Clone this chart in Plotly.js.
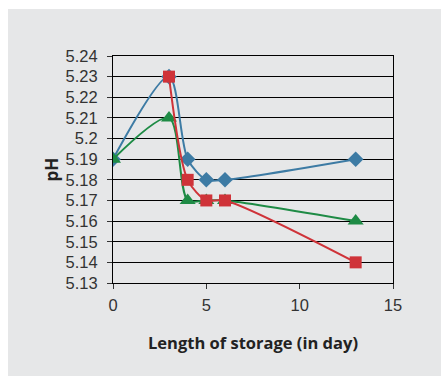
<!DOCTYPE html>
<html><head><meta charset="utf-8">
<script src="https://cdn.plot.ly/plotly-3.0.1.min.js"></script>
<style>
html,body{margin:0;padding:0;background:#fff;width:441px;height:376px;overflow:hidden;}
#chart{position:absolute;left:8px;top:9px;width:433px;height:367px;}
</style></head>
<body><div id="chart"></div>
<script>
const blueDays = [0, 3, 4, 5, 6, 13];
const blueVals = [5.19, 5.23, 5.19, 5.18, 5.18, 5.19];
const redDays = [3, 4, 5, 6, 13];
const redVals = [5.23, 5.18, 5.17, 5.17, 5.14];
const greenDays = [0, 3, 4, 5, 6, 13];
const greenVals = [5.19, 5.21, 5.17, 5.17, 5.17, 5.16];
const xTicks = [0, 5, 10, 15];
const yTicks = [5.13, 5.14, 5.15, 5.16, 5.17, 5.18, 5.19, 5.2, 5.21, 5.22, 5.23, 5.24];
const yTickText = ['5.13','5.14','5.15','5.16','5.17','5.18','5.19','5.2','5.21','5.22','5.23','5.24'];
const yTitle = 'pH';

const traces = [
  {x: blueDays, y: blueVals, mode: 'lines+markers', line: {color: '#3d7ba4', width: 2, shape: 'spline', smoothing: 0.8},
   marker: {symbol: 'diamond', size: 12, color: '#3d7ba4'}},
  {x: greenDays, y: greenVals, mode: 'lines+markers', line: {color: '#1e8b45', width: 2, shape: 'spline', smoothing: 0.8},
   marker: {symbol: 'triangle-up', size: 14, color: '#1e8b45'}},
  {x: redDays, y: redVals, mode: 'lines+markers', line: {color: '#cf3339', width: 2, shape: 'spline', smoothing: 0.8},
   marker: {symbol: 'square', size: 12, color: '#cf3339'}}
];

const layout = {
  width: 433, height: 367,
  margin: {l: 105, r: 48, t: 47, b: 93},
  paper_bgcolor: '#e6e7e8', plot_bgcolor: '#e6e7e8',
  showlegend: false,
  font: {family: 'Liberation Sans, Arial, sans-serif', color: '#333', size: 16},
  xaxis: {range: [0, 15], tickvals: xTicks, ticktext: xTicks.map(String),
    showgrid: false, zeroline: false, showline: true, linecolor: '#000', linewidth: 1, mirror: true,
    ticks: 'outside', ticklen: 5, tickcolor: '#333', tickfont: {size: 16.5, color: '#333'}, ticklabelstandoff: 2,
    title: {text: 'Length of storage (in day)', font: {size: 16.5, color: '#222', family: 'Open Sans, sans-serif', weight: 'bold'}, standoff: 24}},
  yaxis: {range: [5.13, 5.24], tickvals: yTicks, ticktext: yTickText,
    showgrid: true, gridcolor: '#000', gridwidth: 1, zeroline: false, showline: true, linecolor: '#000', linewidth: 1, mirror: true,
    ticks: 'outside', ticklen: 5, tickcolor: '#333', tickfont: {size: 16.5, color: '#333'}, ticklabelstandoff: 6},
  annotations: [{text: yTitle, xref: 'paper', yref: 'paper', x: 0, y: 0.5, xanchor: 'center', yanchor: 'middle',
    xshift: -62, textangle: -90, showarrow: false,
    font: {size: 17, color: '#222', family: 'Open Sans, sans-serif', weight: 'bold'}}]
};
Plotly.newPlot('chart', traces, layout, {displayModeBar: false, staticPlot: true});
</script></body></html>
